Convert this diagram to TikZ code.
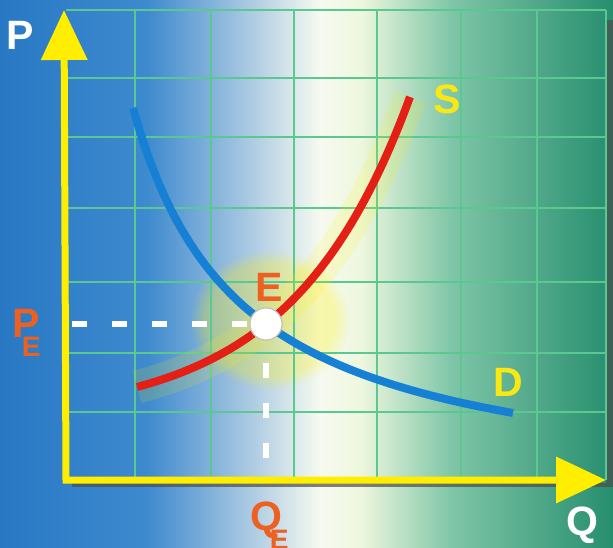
\documentclass[tikz,border=0pt]{standalone}
\usepackage{fontspec}
\setmainfont{Liberation Sans}
\usetikzlibrary{arrows.meta,fadings}
\definecolor{bgblue}{RGB}{40,120,196}
\definecolor{bgblue2}{RGB}{62,138,206}
\definecolor{bgpale}{RGB}{172,202,226}
\definecolor{bgwhite}{RGB}{246,250,240}
\definecolor{bgcream}{RGB}{238,247,222}
\definecolor{bgmint}{RGB}{128,198,168}
\definecolor{bggreen}{RGB}{38,142,110}
\definecolor{gridgreen}{RGB}{92,200,145}
\definecolor{axisyellow}{RGB}{255,238,0}
\definecolor{supplyred}{RGB}{228,32,22}
\definecolor{demandblue}{RGB}{22,128,212}
\definecolor{labelorange}{RGB}{236,96,34}
\definecolor{labelyellow}{RGB}{250,232,20}
\pgfdeclarehorizontalshading{bgshade}{100bp}{color(0bp)=(bgblue); color(25bp)=(bgblue);
	color(37bp)=(bgblue2); color(45.4bp)=(bgpale); color(51.1bp)=(bgwhite);
	color(54.4bp)=(bgcream); color(61.7bp)=(bgmint); color(75bp)=(bggreen); color(100bp)=(bggreen)}
\newcommand\lblfont{\fontsize{35}{35}\selectfont\bfseries}
\newcommand\subfont{\fontsize{24}{24}\selectfont\bfseries}

\begin{document}
\begin{tikzpicture}[x=0.3mm,y=-0.3mm,
	gridline/.style={draw=gridgreen,line width=0.6mm},
	axis/.style={draw=axisyellow,line width=2.1mm,line join=miter,
		{Triangle[length=15mm,width=13.5mm]}-{Triangle[length=15mm,width=13.5mm]}},
	supply/.style={draw=supplyred,line width=2.4mm,
		preaction={draw=yellow,opacity=.14,line width=10mm}},
	demand/.style={draw=demandblue,line width=2.4mm},
	dashline/.style={draw=white,line width=2mm,dash pattern=on 4.5mm off 7.5mm},
	eqpoint/.style={circle,fill=white,draw=black!25,line width=0.3mm,minimum size=9.6mm,inner sep=0pt},
	axislabel/.style={text=white,font=\lblfont,inner sep=0pt},
	curvelabel/.style={text=labelyellow,font=\lblfont,inner sep=0pt},
	eqlabel/.style={text=labelorange,font=\lblfont,inner sep=0pt}]
	\useasboundingbox (0,0) rectangle (613,548);
	\shade[shading=bgshade] (0,0) rectangle (613,548);
	\fill[black!70,opacity=.7] (606,20) rectangle (613,487);
	\fill[black!70,opacity=.7] (72,483) rectangle (606,487);
	\fill[yellow,opacity=.28,path fading=circle with fuzzy edge 20 percent] (270,320) ellipse (80 and 70);
	\foreach \gx in {135,211,294,377,461,537,606}
		\draw[gridline] (\gx,10) -- (\gx,480);
	\foreach \gy in {10,78,137,208,282,353,412}
		\draw[gridline] (66,\gy) -- (606,\gy);
	\coordinate (origin) at (66,480);
	\coordinate (ptip) at (64,10);
	\coordinate (qtip) at (606,480);
	\draw[demand] plot[domain=133:513,samples=80] (\x,{499.95-424.63/((\x-24.66)/100)});
	\draw[supply] plot[domain=137:410,samples=80] (\x,{418.6-31.6*exp(0.0085*(\x-137))});
	\node[eqpoint] (E) at (266,324) {};
	\coordinate (pedash) at (72,324);
	\coordinate (qedash) at (266,458);
	\draw[dashline] (pedash) -- (E.west);
	\draw[dashline] (qedash) -- (E.south);
	\node[eqpoint] at (E) {};
	\draw[axis] (ptip) -- (origin) -- (qtip);
	\node[axislabel] (P) at (20,35) {P};
	\node[axislabel] (Q) at (582,525) {Q};
	\node[curvelabel] (S) at (447,99) {S};
	\node[curvelabel] (D) at (508,382) {D};
	\node[eqlabel] (Elabel) at (269,287) {E};
	\node[eqlabel,anchor=base west] (PE) at (12,337) {P\kern-0.43em\raisebox{-0.47em}{\subfont E}};
	\node[eqlabel,anchor=base west] (QE) at (250,530) {Q\kern-0.3em\raisebox{-0.47em}{\subfont E}};
\end{tikzpicture}
\end{document}
